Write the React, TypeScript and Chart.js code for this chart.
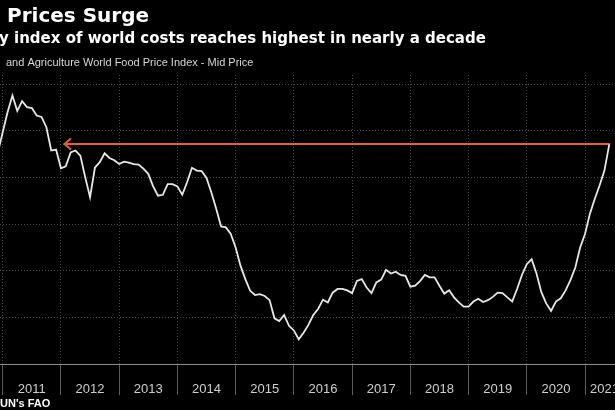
import React, { useEffect, useRef } from "react";
import { Chart, registerables } from "chart.js";

Chart.register(...registerables);

// ---- Text ----
const titleText = "Prices Surge";
const subtitleText = "y index of world costs reaches highest in nearly a decade";
const legendText = "and Agriculture World Food Price Index - Mid Price";
const sourceText = "UN's FAO";

// ---- Axis ----
const yearTicks = [2011, 2012, 2013, 2014, 2015, 2016, 2017, 2018, 2019, 2020, 2021];
const yearLabels = ["2011", "2012", "2013", "2014", "2015", "2016", "2017", "2018", "2019", "2020", "2021"];
const yGridValues = [80, 90, 100, 110, 120, 130, 140];
const xMin = 2010.9536;
const xMax = 2021.515;
const axisEnd = 2021.67;
const yMin = 80;
const yMax = 142;

// ---- Data: FAO Food Price Index, monthly (value at end of month) ----
const idx2010 = [125.4, 129.7]; // Nov, Dec
const idx2011 = [134.0, 137.6, 134.3, 136.4, 135.1, 134.9, 133.3, 133.0, 130.8, 125.8, 126.0, 122.0];
const idx2012 = [122.4, 125.4, 125.8, 124.7, 120.1, 115.8, 122.1, 123.3, 125.2, 124.2, 123.7, 122.9];
const idx2013 = [123.4, 123.2, 122.9, 122.8, 121.9, 120.8, 118.1, 116.1, 116.3, 118.6, 118.6, 118.1];
const idx2014 = [116.3, 119.0, 122.1, 121.5, 121.4, 119.9, 116.8, 113.3, 109.5, 109.3, 107.9, 105.0];
const idx2015 = [101.1, 98.2, 95.7, 94.8, 95.0, 94.6, 93.7, 89.8, 89.2, 90.5, 88.2, 87.2];
const idx2016 = [85.3, 86.7, 88.4, 90.5, 91.8, 93.8, 93.2, 95.3, 96.1, 96.1, 95.8, 95.2];
const idx2017 = [97.8, 98.2, 96.4, 95.2, 97.5, 98.1, 100.2, 99.4, 99.8, 99.1, 98.9, 96.6];
const idx2018 = [96.8, 97.8, 99.1, 98.6, 98.6, 96.8, 95.1, 95.8, 94.3, 93.2, 92.3, 92.3];
const idx2019 = [93.4, 94.0, 93.3, 93.7, 94.4, 95.3, 95.2, 94.3, 93.4, 96.1, 99.1, 101.4];
const idx2020 = [102.5, 99.4, 95.4, 93.0, 91.4, 93.4, 94.1, 95.8, 98.0, 100.7, 105.0, 107.9];
const idx2021 = [112.2, 115.4, 118.3, 121.5, 127.1];

const seriesByYear: [number, number, number[]][] = [
  [2010, 11, idx2010],
  [2011, 1, idx2011],
  [2012, 1, idx2012],
  [2013, 1, idx2013],
  [2014, 1, idx2014],
  [2015, 1, idx2015],
  [2016, 1, idx2016],
  [2017, 1, idx2017],
  [2018, 1, idx2018],
  [2019, 1, idx2019],
  [2020, 1, idx2020],
  [2021, 1, idx2021],
];

// Annotation: arrow back from latest level to early 2012
const arrowFromDate = 2012.06;

const lineColor = "#e8e8e8";
const arrowColor = "#e2613a";
const gridColor = "#4a4a4a";

function buildPoints() {
  const pts: { x: number; y: number }[] = [];
  for (const [year, startMonth, vals] of seriesByYear) {
    vals.forEach((v, i) => {
      const m = startMonth + i;
      pts.push({ x: year + m / 12, y: v });
    });
  }
  return pts;
}

export default function App() {
  const ref = useRef<HTMLCanvasElement | null>(null);

  useEffect(() => {
    const canvas = ref.current;
    if (!canvas) return;
    const points = buildPoints();
    const last = points[points.length - 1];

    const overlay = {
      id: "overlay",
      beforeDatasetsDraw(chart: any) {
        const { ctx, scales } = chart;
        const xs = scales.x;
        const ys = scales.y;
        const yy = Math.round(ys.getPixelForValue(last.y));
        const x1 = xs.getPixelForValue(arrowFromDate);
        const x2 = xs.getPixelForValue(last.x);
        ctx.save();
        ctx.strokeStyle = arrowColor;
        ctx.lineWidth = 2;
        ctx.lineCap = "round";
        ctx.lineJoin = "round";
        ctx.beginPath();
        ctx.moveTo(x1, yy);
        ctx.lineTo(x2, yy);
        ctx.stroke();
        ctx.beginPath();
        ctx.moveTo(x1 + 6, yy - 5);
        ctx.lineTo(x1, yy);
        ctx.lineTo(x1 + 6, yy + 5);
        ctx.stroke();
        ctx.restore();
      },
      afterDraw(chart: any) {
        const { ctx, scales, chartArea } = chart;
        const xs = scales.x;
        ctx.save();
        ctx.textBaseline = "alphabetic";
        ctx.textAlign = "left";
        ctx.fillStyle = "#ffffff";
        ctx.font = 'bold 20px "DejaVu Sans"';
        ctx.fillText(titleText, 7, 22);
        ctx.font = 'bold 15px "DejaVu Sans"';
        ctx.fillText(subtitleText, -1, 43);
        ctx.fillStyle = "#d6d6d6";
        ctx.font = '11px "Liberation Sans"';
        ctx.fillText(legendText, 6, 66);
        ctx.fillStyle = "#ffffff";
        ctx.font = 'bold 11px "Liberation Sans"';
        ctx.fillText(sourceText, 0, 407);

        ctx.fillStyle = "#cfcfcf";
        ctx.font = '13px "Liberation Sans"';
        ctx.textAlign = "center";
        const endPx = xs.getPixelForValue(axisEnd);
        yearTicks.forEach((yr, i) => {
          const a = Math.max(chartArea.left, xs.getPixelForValue(yr));
          const b = Math.min(endPx, xs.getPixelForValue(yr + 1));
          ctx.fillText(yearLabels[i], (a + b) / 2, 393);
        });
        ctx.restore();
      },
    };

    const chart = new Chart(canvas, {
      type: "line",
      data: {
        datasets: [
          {
            data: points,
            borderColor: lineColor,
            borderWidth: 1.8,
            pointRadius: 0,
            tension: 0,
            fill: false,
          },
        ],
      },
      options: {
        animation: false,
        responsive: false,
        maintainAspectRatio: false,
        layout: { padding: { top: 75, bottom: 15, left: 0, right: 0 } },
        plugins: {
          legend: { display: false },
          tooltip: { enabled: false },
          title: { display: false },
        },
        scales: {
          x: {
            type: "linear",
            position: "bottom",
            min: xMin,
            max: xMax,
            afterBuildTicks: (s: any) => {
              s.ticks = yearTicks.map((v) => ({ value: v }));
            },
            afterFit: (s: any) => {
              s.height = 31;
            },
            ticks: { display: false },
            grid: {
              color: gridColor,
              lineWidth: 1,
              drawTicks: true,
              tickLength: 31,
              tickColor: "#5c5c5c",
              tickWidth: 1,
              tickBorderDash: [],
            },
            border: { display: true, color: "#8a8a8a", width: 1, dash: [1, 2] },
          },
          y: {
            type: "linear",
            position: "right",
            min: yMin,
            max: yMax,
            afterBuildTicks: (s: any) => {
              s.ticks = yGridValues.map((v) => ({ value: v }));
            },
            afterFit: (s: any) => {
              s.width = 0;
            },
            ticks: { display: false },
            grid: { color: gridColor, lineWidth: 1, drawTicks: false },
            border: { display: false, dash: [1, 2] },
          },
        },
      },
      plugins: [overlay],
    } as any);

    return () => chart.destroy();
  }, []);

  return (
    <div
      style={{
        position: "fixed",
        left: 0,
        top: 0,
        width: 615,
        height: 410,
        background: "#000",
        overflow: "hidden",
      }}
    >
      <canvas ref={ref} width={615} height={410} style={{ display: "block", width: 615, height: 410 }} />
    </div>
  );
}
